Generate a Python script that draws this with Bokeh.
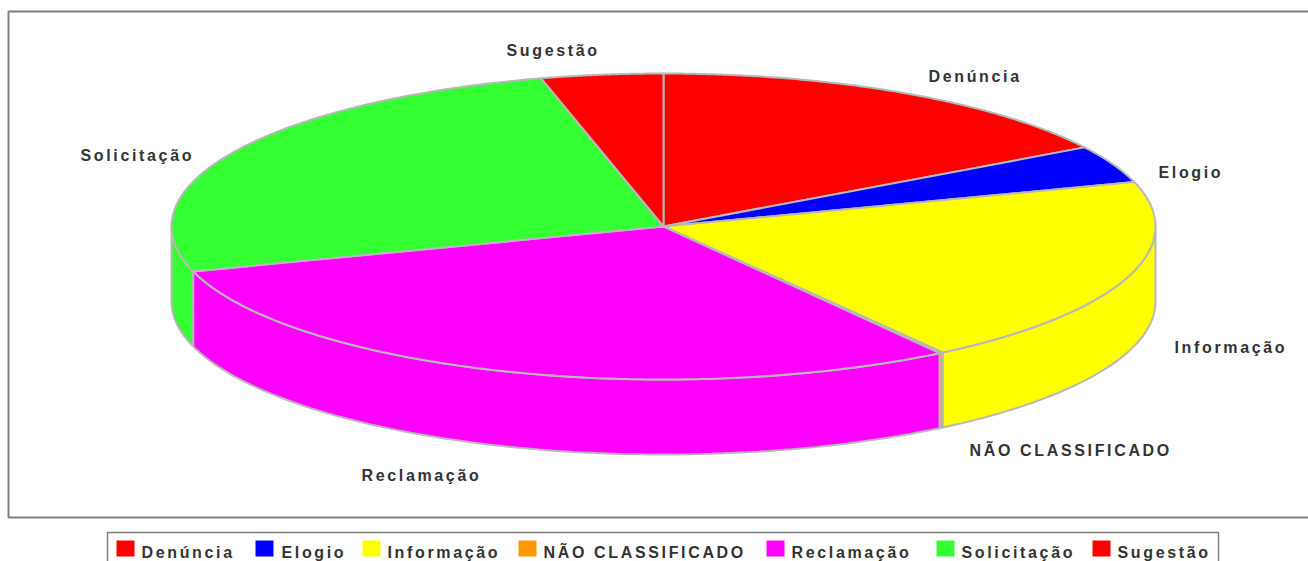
import numpy as np
from bokeh.plotting import figure
from bokeh.models import Range1d, InlineStyleSheet
from bokeh.embed import file_html
from bokeh.resources import INLINE

categories = ["Denúncia", "Elogio", "Informação", "NÃO CLASSIFICADO", "Reclamação", "Solicitação", "Sugestão"]
values = [16.35, 3.95, 20.1, 0.12, 29.74, 25.74, 4.0]
colors = ["#ff0000", "#0000ff", "#ffff00", "#ff9a00", "#ff00ff", "#33ff33", "#ff0000"]

label_x = [928, 1158, 1174, 969, 361, 80, 506]
label_y = [76, 172, 347, 450, 475, 155, 50]
legend_box_x = [116, 255, 362, 518, 766, 936, 1092]
legend_text_x = [141, 281, 387, 543, 791, 961, 1117]

CX, CY, RX, RY, DEPTH = 663, 226, 492, 153, 75
EDGE = "#b8b8b8"
FONT = "Liberation Sans"
FSIZE = "16px"
TCOL = "#333333"

p = figure(width=1308, height=561, x_range=Range1d(0, 1308), y_range=Range1d(561, 0),
           toolbar_location=None, output_backend="svg", min_border=0,
           background_fill_color="white", border_fill_color="white", outline_line_color=None)
p.axis.visible = False
p.grid.visible = False
p.stylesheets = [InlineStyleSheet(css=":host { letter-spacing: 2.65px; }")]

# chart frame and legend frame
p.quad(left=[8], right=[1320], top=[11], bottom=[517], fill_color="white",
       line_color="#808080", line_width=2)
p.quad(left=[107], right=[1218], top=[532], bottom=[575], fill_color="white",
       line_color="#808080", line_width=1.5)

fr = np.array(values, dtype=float) / sum(values)
cum = np.concatenate([[0.0], np.cumsum(fr)])
theta = np.pi / 2 - 2 * np.pi * cum


def ex(t):
    return CX + RX * np.cos(t)


def ey(t):
    return CY - RY * np.sin(t)


# side walls (front half of the ellipse only)
wx, wy, wc = [], [], []
for i, c in enumerate(colors):
    for lo, hi in ((-np.pi, 0.0), (-3 * np.pi, -2 * np.pi)):
        a = min(theta[i], hi)
        b = max(theta[i + 1], lo)
        if a > b:
            t = np.linspace(a, b, 80)
            wx.append(list(ex(t)) + list(ex(t[::-1])))
            wy.append(list(ey(t) + DEPTH) + list(ey(t[::-1])))
            wc.append(c)
p.patches(wx, wy, fill_color=wc, line_color=EDGE, line_width=2)

# top faces
tx, ty = [], []
for i in range(len(values)):
    t = np.linspace(theta[i], theta[i + 1], 160)
    tx.append([CX] + list(ex(t)))
    ty.append([CY] + list(ey(t)))
p.patches(tx, ty, fill_color=colors, line_color=EDGE, line_width=2, line_join="round")

# slice labels
p.text(label_x, label_y, text=categories, text_font_size=FSIZE, text_font={"value": FONT},
       text_font_style="bold", text_color=TCOL, text_align="left", text_baseline="middle")

# legend
p.quad(left=legend_box_x, right=[v + 18 for v in legend_box_x], top=[540] * 7, bottom=[556] * 7,
       fill_color=colors, line_color=None)
p.text(legend_text_x, [552] * 7, text=categories, text_font_size=FSIZE, text_font={"value": FONT},
       text_font_style="bold", text_color=TCOL, text_align="left", text_baseline="middle")

open("out.html", "w").write(file_html(p, INLINE))
